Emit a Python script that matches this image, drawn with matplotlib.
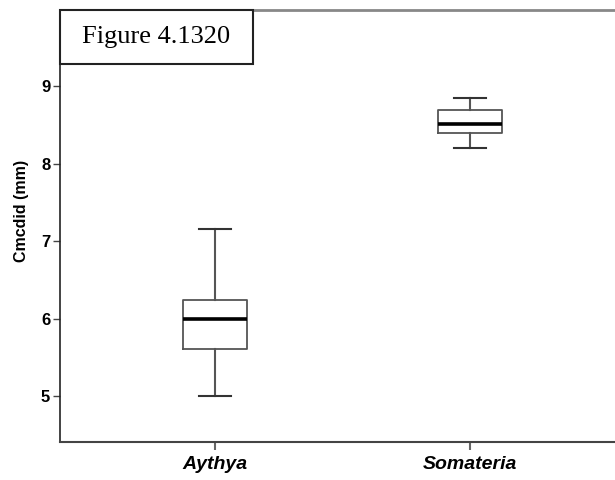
import numpy as np
import matplotlib
matplotlib.use('Agg')
import matplotlib.pyplot as plt

groups = ['Aythya', 'Somateria']
lo = [5.00, 8.20]      # lower whisker
q1 = [5.61, 8.40]
med = [6.00, 8.51]
q3 = [6.24, 8.69]
hi = [7.15, 8.84]      # upper whisker

stats = []
for i in range(len(groups)):
    stats.append({'label': groups[i], 'whislo': lo[i], 'q1': q1[i], 'med': med[i],
                  'q3': q3[i], 'whishi': hi[i], 'fliers': []})

plt.rcParams['font.family'] = ['Liberation Sans', 'DejaVu Sans']

fig = plt.figure(figsize=(6.15, 4.8), dpi=100)
ax = fig.add_axes([60/615, 38/480, 1 - 60/615, 432/480])

pos = np.arange(1, len(groups) + 1)
ax.bxp(stats, positions=pos, widths=0.25, capwidths=0.125, showfliers=False,
       boxprops=dict(color='#555555', linewidth=1.3),
       whiskerprops=dict(color='#555555', linewidth=1.5),
       capprops=dict(color='#333333', linewidth=1.5),
       medianprops=dict(color='black', linewidth=2.6))

ax.set_xlim(0.392, 2.569)
ax.set_ylim(4.41, 9.98)
ax.set_yticks([5, 6, 7, 8, 9])
ax.set_xticks(pos)
ax.set_xticklabels(groups, fontsize=14, fontweight='bold', style='italic')
for t in ax.get_yticklabels():
    t.set_fontsize(12)
    t.set_fontweight('bold')
ax.set_ylabel('Cmcdid (mm)', fontsize=11.5, fontweight='bold')
ax.yaxis.set_label_coords(-0.055, 0.535)

ax.spines['right'].set_visible(False)
ax.spines['top'].set_color('#888888')
ax.spines['top'].set_linewidth(2)
ax.spines['left'].set_color('#222222')
ax.spines['bottom'].set_color('#444444')
ax.spines['left'].set_linewidth(1.2)
ax.spines['bottom'].set_linewidth(1.5)
ax.tick_params(axis='y', length=5, width=1, color='#444444', pad=2)
ax.tick_params(axis='x', length=6, width=1.5, color='#666666', pad=4)

# title box in the top left corner
box = plt.Rectangle((60/615, 1 - 64/480), 193/615, 54/480, transform=fig.transFigure,
                    fc='white', ec='#222222', lw=1.5, zorder=5)
fig.patches.append(box)
fig.text(156/615, 1 - 37/480, 'Figure 4.1320', ha='center', va='center', fontsize=19,
         family=['Liberation Serif', 'DejaVu Serif'], zorder=6)

fig.savefig('out.png', dpi=100)
